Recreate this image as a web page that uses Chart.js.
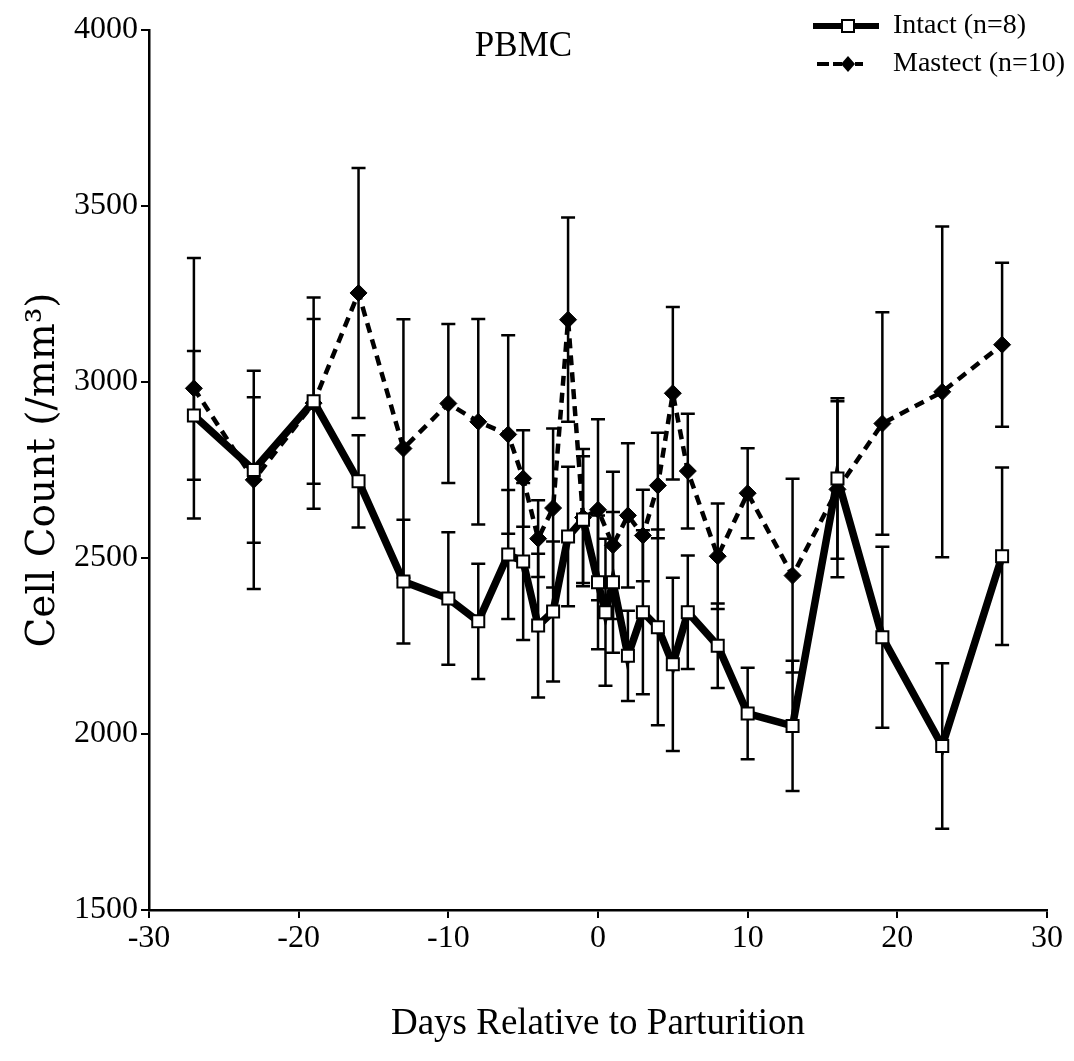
<!DOCTYPE html>
<html>
<head>
<meta charset="utf-8">
<script src="https://cdn.jsdelivr.net/npm/chart.js@4.4.1/dist/chart.umd.min.js"></script>
<style>
html, body { margin: 0; padding: 0; background: #ffffff; }
#wrap { width: 1074px; height: 1061px; }
</style>
</head>
<body>
<div id="wrap"><canvas id="c" width="1074" height="1061"></canvas></div>
<script>
// ---- data ----
const chartTitle = 'PBMC';
const xAxisTitle = 'Days Relative to Parturition';
const yAxisTitle = 'Cell Count (/mm\u00B3)';
const seriesNames = ['Intact (n=8)', 'Mastect (n=10)'];
const xTicks = [-30, -20, -10, 0, 10, 20, 30];
const yTicks = [1500, 2000, 2500, 3000, 3500, 4000];

const intactDays   = [-27, -23, -19, -16, -13, -10, -8, -6, -5, -4, -3, -2, -1, 0, 0.5, 1, 2, 3, 4, 5, 6, 8, 10, 13, 16, 19, 23, 27];
const intactMeans  = [2905, 2750, 2945, 2718, 2433, 2385, 2320, 2510, 2490, 2308, 2348, 2561, 2609, 2431, 2346, 2431, 2222, 2346, 2303, 2198, 2346, 2251, 2058, 2023, 2726, 2275, 1966, 2505];
const intactErrors = [183, 207, 234, 131, 176, 188, 164, 183, 223, 204, 199, 198, 180, 190, 209, 200, 128, 233, 278, 246, 161, 120, 130, 185, 228, 257, 235, 252];

const mastectDays   = [-27, -23, -19, -16, -13, -10, -8, -6, -5, -4, -3, -2, -1, 0, 1, 2, 3, 4, 5, 6, 8, 10, 13, 16, 19, 23, 27];
const mastectMeans  = [2982, 2722, 2940, 3253, 2811, 2939, 2887, 2851, 2726, 2555, 2642, 3177, 2615, 2637, 2536, 2621, 2564, 2706, 2968, 2747, 2505, 2684, 2450, 2695, 2882, 2972, 3106];
const mastectErrors = [370, 310, 300, 355, 367, 226, 292, 282, 137, 109, 226, 290, 195, 257, 209, 205, 130, 150, 245, 163, 150, 128, 275, 250, 316, 470, 233];

// ---- helpers ----
function toPoints(days, means) { return days.map((d, i) => ({ x: d, y: means[i] })); }

function makeLegendIcon(kind) {
  const c = document.createElement('canvas');
  c.width = 66; c.height = 22;
  const g = c.getContext('2d');
  g.fillStyle = '#000';
  if (kind === 'intact') {
    g.fillRect(0, 8, 66, 6);
    g.fillStyle = '#fff';
    g.fillRect(29, 5, 12, 12);
    g.strokeStyle = '#000'; g.lineWidth = 2;
    g.strokeRect(29, 5, 12, 12);
  } else {
    g.fillRect(4, 9, 12, 4);
    g.fillRect(20, 9, 9, 4);
    g.fillRect(42, 9, 8, 4);
    g.beginPath();
    g.moveTo(35, 3); g.lineTo(42, 11); g.lineTo(35, 19); g.lineTo(28, 11); g.closePath();
    g.fill();
  }
  return c;
}

const errorBarPlugin = {
  id: 'errorBars',
  beforeDatasetsDraw(chart) {
    const { ctx } = chart;
    const xs = chart.scales.x, ys = chart.scales.y;
    ctx.save();
    ctx.strokeStyle = '#000';
    ctx.lineWidth = 2.5;
    chart.data.datasets.forEach(ds => {
      ds.data.forEach((p, i) => {
        const e = ds.errors[i];
        const px = xs.getPixelForValue(p.x);
        const top = ys.getPixelForValue(p.y + e);
        const bot = ys.getPixelForValue(p.y - e);
        ctx.beginPath();
        ctx.moveTo(px, top); ctx.lineTo(px, bot);
        ctx.moveTo(px - 7, top); ctx.lineTo(px + 7, top);
        ctx.moveTo(px - 7, bot); ctx.lineTo(px + 7, bot);
        ctx.stroke();
      });
    });
    ctx.restore();
  }
};

const placeLegendPlugin = {
  id: 'placeLegend',
  afterLayout(chart) {
    const lg = chart.legend;
    if (!lg) return;
    lg.left = 803; lg.top = 2; lg.right = 1074; lg.bottom = 100;
    lg.width = lg.right - lg.left; lg.height = lg.bottom - lg.top;
  }
};

const serif = 'Liberation Serif, "Times New Roman", serif';
const icons = [makeLegendIcon('intact'), makeLegendIcon('mastect')];

new Chart(document.getElementById('c'), {
  type: 'line',
  data: {
    datasets: [
      {
        label: seriesNames[0],
        data: toPoints(intactDays, intactMeans),
        errors: intactErrors,
        borderColor: '#000',
        borderWidth: 7.5,
        pointStyle: 'rect',
        pointRadius: 8.5,
        pointBackgroundColor: '#fff',
        pointBorderColor: '#000',
        pointBorderWidth: 2,
        tension: 0
      },
      {
        label: seriesNames[1],
        data: toPoints(mastectDays, mastectMeans),
        errors: mastectErrors,
        borderColor: '#000',
        borderWidth: 4.5,
        borderDash: [10, 7],
        pointStyle: 'rectRot',
        pointRadius: 8.5,
        pointBackgroundColor: '#000',
        pointBorderColor: '#000',
        pointBorderWidth: 1,
        tension: 0
      }
    ]
  },
  options: {
    responsive: false,
    animation: false,
    devicePixelRatio: 1,
    events: [],
    layout: { padding: { top: 25.6, right: 27, left: 0, bottom: 0 } },
    plugins: {
      tooltip: { enabled: false },
      title: {
        display: true,
        text: chartTitle,
        color: '#000',
        font: { family: serif, size: 35, weight: 'normal' },
        padding: { top: 0, bottom: -37.6 }
      },
      legend: {
        display: true,
        position: 'chartArea',
        align: 'start',
        labels: {
          color: '#000',
          font: { family: serif, size: 28 },
          usePointStyle: true,
          pointStyleWidth: 66,
          padding: 10,
          generateLabels: () => seriesNames.map((n, i) => ({
            text: n, pointStyle: icons[i], fillStyle: '#000', strokeStyle: '#000',
            lineWidth: 0, hidden: false, datasetIndex: i, fontColor: '#000'
          }))
        }
      }
    },
    scales: {
      x: {
        type: 'linear',
        min: -30, max: 30,
        afterBuildTicks: s => { s.ticks = xTicks.map(v => ({ value: v })); },
        afterFit: s => { s.height = 151; },
        ticks: { color: '#000', font: { family: serif, size: 32 }, padding: 1, maxRotation: 0, autoSkip: false, callback: v => String(v) },
        grid: { display: true, drawOnChartArea: false, drawTicks: true, tickLength: 8, color: '#000', lineWidth: 2 },
        border: { display: true, color: '#000', width: 2.5 },
        title: { display: true, text: xAxisTitle, color: '#000', font: { family: serif, size: 37 }, padding: { top: 0, bottom: 15 } }
      },
      y: {
        type: 'linear',
        min: 1500, max: 4000,
        afterBuildTicks: s => { s.ticks = yTicks.map(v => ({ value: v })); },
        afterFit: s => { s.width = 149; },
        ticks: { color: '#000', font: { family: serif, size: 32 }, padding: 3, autoSkip: false, callback: v => String(v) },
        grid: { display: true, drawOnChartArea: false, drawTicks: true, tickLength: 8, color: '#000', lineWidth: 2 },
        border: { display: true, color: '#000', width: 2.5 },
        title: { display: true, text: yAxisTitle, color: '#000', font: { family: '"DejaVu Serif", serif', size: 39 }, padding: { top: 20, bottom: 0 } }
      }
    }
  },
  plugins: [errorBarPlugin, placeLegendPlugin]
});
</script>
</body>
</html>
